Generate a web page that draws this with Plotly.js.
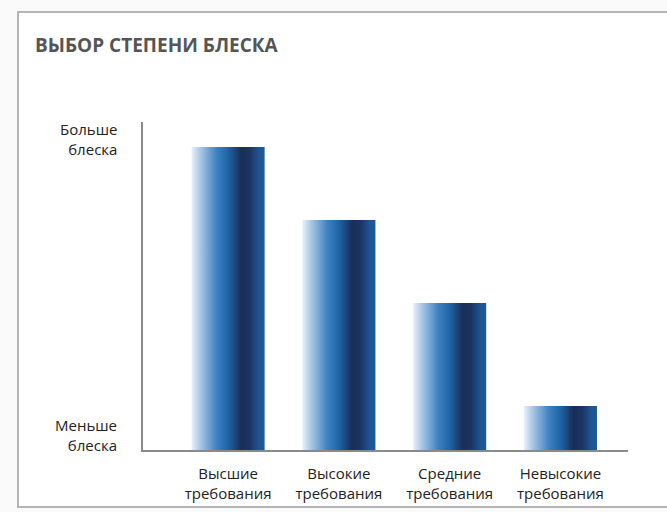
<!DOCTYPE html>
<html>
<head>
<meta charset="utf-8">
<script src="https://cdn.plot.ly/plotly-3.0.1.min.js"></script>
<style>
html,body{margin:0;padding:0;background:#fafafa;}
#chart{width:667px;height:512px;}
</style>
</head>
<body>
<div id="chart"></div>
<script>
const categories = ["Высшие<br>требования", "Высокие<br>требования", "Средние<br>требования", "Невысокие<br>требования"];
const glossValues = [92.4, 70.1, 44.8, 13.4];
const yLabels = ["Больше<br>блеска", "Меньше<br>блеска"];
const yLabelPositions = [94.8, 4.6];
const chartTitle = "ВЫБОР СТЕПЕНИ БЛЕСКА";

const xIdx = categories.map((c, i) => i);
const FONT = "'Open Sans', Lato, sans-serif";

const trace = {
  type: "bar",
  x: xIdx,
  y: glossValues,
  width: 0.66,
  marker: {color: "#1f64a6", line: {width: 0}},
  hoverinfo: "skip"
};

const annotations = yLabels.map((t, i) => ({
  text: t, xref: "paper", yref: "y", x: -0.05, y: yLabelPositions[i],
  xanchor: "right", yanchor: "middle", align: "right", showarrow: false,
  font: {family: FONT, size: 15, color: "#222"}
}));

const layout = {
  width: 667, height: 512,
  margin: {l: 143, r: 39, t: 122, b: 62},
  paper_bgcolor: "#fafafa",
  plot_bgcolor: "rgba(0,0,0,0)",
  showlegend: false,
  title: {
    text: "<b>" + chartTitle + "</b>",
    xref: "container", yref: "container",
    x: 35 / 667, y: 1 - 45 / 512, xanchor: "left", yanchor: "middle",
    font: {family: FONT, size: 19, color: "#555", weight: 800}
  },
  xaxis: {
    range: [-0.768, 3.61],
    tickvals: xIdx, ticktext: categories,
    showgrid: false, zeroline: false,
    showline: true, linecolor: "#8a8a8a", linewidth: 2,
    ticks: "", ticklabelstandoff: 9,
    tickfont: {family: FONT, size: 15, color: "#222"},
    fixedrange: true
  },
  yaxis: {
    range: [0, 100],
    showgrid: false, zeroline: false,
    showline: true, linecolor: "#8a8a8a", linewidth: 2,
    showticklabels: false, ticks: "",
    fixedrange: true
  },
  shapes: [{
    type: "rect", xref: "paper", yref: "paper",
    x0: (18 - 143) / 485, x1: (680 - 143) / 485,
    y0: (450 - 507) / 328, y1: (450 - 12) / 328,
    line: {color: "#b5b5b5", width: 2},
    fillcolor: "#ffffff", layer: "below"
  }],
  annotations: annotations
};

Plotly.newPlot("chart", [trace], layout, {displayModeBar: false, staticPlot: true}).then(gd => {
  const svg = gd.querySelector("svg.main-svg");
  const ns = "http://www.w3.org/2000/svg";
  let defs = svg.querySelector("defs");
  if (!defs) { defs = document.createElementNS(ns, "defs"); svg.insertBefore(defs, svg.firstChild); }
  const grad = document.createElementNS(ns, "linearGradient");
  grad.setAttribute("id", "barGrad");
  grad.setAttribute("x1", "0"); grad.setAttribute("y1", "0");
  grad.setAttribute("x2", "1"); grad.setAttribute("y2", "0");
  const stops = [[0, "#eaf1f9"], [0.12, "#a9c7e6"], [0.35, "#3b80bf"], [0.5, "#1f64a6"], [0.68, "#1a2d58"], [0.8, "#1b3564"], [0.92, "#1d5592"], [1, "#1e5a98"]];
  stops.forEach(([o, c]) => {
    const s = document.createElementNS(ns, "stop");
    s.setAttribute("offset", o); s.setAttribute("stop-color", c);
    grad.appendChild(s);
  });
  defs.appendChild(grad);
  gd.querySelectorAll(".bars .point path").forEach(p => { p.style.fill = "url(#barGrad)"; });
});
</script>
</body>
</html>
